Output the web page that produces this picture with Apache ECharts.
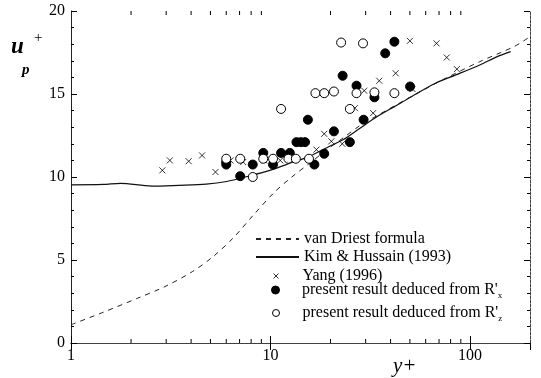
<!DOCTYPE html>
<html><head><meta charset="utf-8">
<script src="https://cdn.jsdelivr.net/npm/echarts@6/dist/echarts.min.js"></script>
<style>html,body{margin:0;padding:0;background:#fff}#c{width:541px;height:378px}</style>
</head><body><div id="c"></div>
<script>
const seriesNames = ['van Driest formula', 'Kim & Hussain (1993)', 'Yang (1996)', "present result deduced from R'x", "present result deduced from R'z"];
const vanDriest = [[1,1.1],[1.45,1.85],[2.16,2.7],[2.96,3.4],[4.06,4.3],[5.15,5.2],[6.53,6.35],[8.27,7.75],[10.5,9.1],[12.8,10.0],[15.6,10.8],[19.7,11.75],[23.1,12.35],[28.1,13.1],[34.3,13.7],[50.9,14.85],[75.6,15.95],[112,16.95],[166,17.85],[200,18.45]];
const kimHussain = [[1,9.53],[1.45,9.55],[1.77,9.62],[2.53,9.45],[3.47,9.5],[4.76,9.57],[6.03,9.73],[7.64,10.03],[10.1,10.43],[12.8,10.87],[15.6,11.23],[19.7,11.84],[23.1,12.24],[28.1,12.94],[34.3,13.64],[41.8,14.24],[50.9,14.84],[67.1,15.65],[85,16.15],[112,16.75],[137,17.25],[160,17.55]];
const yang = [[2.87,10.4],[3.13,11.0],[3.89,10.95],[4.54,11.3],[5.3,10.3],[6.3,11.0],[7.3,10.9],[9.3,11.0],[11.2,11.0],[12.6,11.3],[17.0,11.65],[18.6,12.6],[20.2,12.15],[22.9,12.0],[26.5,14.15],[29.5,15.2],[32.7,13.85],[35.1,15.8],[42.4,16.25],[50.0,18.2],[51.5,15.3],[68.0,18.05],[76.5,17.2],[86.0,16.5]];
const presentRx = [[6.0,10.75],[6.0,10.9],[7.05,10.05],[8.15,10.75],[9.2,11.45],[10.3,10.75],[11.3,11.45],[12.5,11.45],[13.5,12.1],[14.2,12.1],[14.9,12.1],[15.4,13.45],[16.6,10.75],[18.6,11.4],[20.8,12.75],[23.0,16.1],[25.0,12.1],[27.0,15.5],[29.3,13.45],[33.2,14.8],[37.6,17.45],[41.8,18.15],[50.1,15.45]];
const presentRz = [[6.0,11.1],[7.05,11.1],[8.15,10.0],[9.2,11.1],[10.3,11.1],[11.3,14.1],[12.3,11.1],[13.4,11.1],[15.6,11.1],[16.8,15.05],[18.6,15.05],[20.8,15.15],[22.6,18.1],[25.0,14.1],[27.0,15.05],[29.1,18.05],[33.2,15.1],[41.8,15.05]];
const xTickLabels = [1, 10, 100];
const xMinorTicks = [2,3,4,5,6,7,8,9,20,30,40,50,60,70,80,90];
const yTickLabels = [0, 5, 10, 15, 20];

const FONT = 'Liberation Serif';
const crossPath = 'path://M0,0L10,10M10,0L0,10';
const chart = echarts.init(document.getElementById('c'), null, {renderer: 'canvas'});

function xLabel(v) {
  const r = Math.round(v);
  return xTickLabels.indexOf(r) >= 0 && Math.abs(v - r) < 1e-6 * Math.max(1, r) ? String(r) : '';
}
const legendTops = [231, 249, 268, 282, 305];
const legendLefts = [255, 255, 273, 271, 272];
const legendIconH = [10, 10, 5, 8, 7];
const legends = seriesNames.map((n, i) => ({
  data: [n], orient: 'vertical', left: legendLefts[i], top: legendTops[i], padding: 0,
  itemWidth: 43, itemHeight: legendIconH[i], itemGap: 0, selectedMode: false,
  itemStyle: i < 2 ? {color: 'rgba(0,0,0,0)', borderWidth: 0, opacity: 0} : {borderWidth: 1},
  textStyle: {fontFamily: FONT, fontSize: 16, color: '#000',
    rich: {s: {fontFamily: FONT, fontSize: 9, color: '#000', padding: [12, 0, 0, 0]}}},
  formatter: (name) => name.replace(/R'([xz])$/, "R'{s|$1}")
}));

const axisLineStyle = {color: '#222', width: 1};
const option = {
  animation: false,
  backgroundColor: '#fff',
  grid: {left: 71, right: 11, top: 11, bottom: 35, containLabel: false},
  legend: legends,
  xAxis: [
    {type: 'log', logBase: 10, min: 1, max: 200, position: 'bottom',
     axisLine: {show: true, lineStyle: axisLineStyle},
     axisTick: {show: true, inside: true, length: 7, lineStyle: {color: '#000'}},
     axisLabel: {formatter: xLabel, fontFamily: FONT, fontSize: 16, color: '#000', margin: 5, showMaxLabel: false},
     splitLine: {show: false}},
    {type: 'log', logBase: 10, min: 1, max: 200, position: 'top',
     axisLine: {show: true, lineStyle: {color: '#444', width: 1, type: [3, 1]}},
     axisTick: {show: true, inside: true, length: 7, lineStyle: {color: '#000'}},
     axisLabel: {show: false}, splitLine: {show: false}}
  ],
  yAxis: [
    {type: 'value', min: 0, max: 20, interval: 5, position: 'left',
     axisLine: {show: true, lineStyle: axisLineStyle},
     axisTick: {show: true, inside: true, length: 6, lineStyle: {color: '#000'}},
     minorTick: {show: true, splitNumber: 5, length: 3, lineStyle: {color: '#000'}},
     axisLabel: {fontFamily: FONT, fontSize: 16, color: '#000', margin: 6,
       formatter: v => yTickLabels.indexOf(v) >= 0 ? String(v) : ''},
     splitLine: {show: false}},
    {type: 'value', min: 0, max: 20, interval: 5, position: 'right',
     axisLine: {show: true, lineStyle: {color: '#444', width: 1, type: [3, 1]}},
     axisTick: {show: true, inside: true, length: 6, lineStyle: {color: '#000'}},
     minorTick: {show: true, splitNumber: 5, length: 3, lineStyle: {color: '#000'}},
     axisLabel: {show: false}, splitLine: {show: false}}
  ],
  graphic: [
    {type: 'text', left: 11, top: 36, style: {text: 'u', font: 'italic bold 23px "Liberation Serif"', fill: '#000'}},
    {type: 'text', left: 34, top: 31, style: {text: '+', font: '15px "Liberation Serif"', fill: '#000'}},
    {type: 'text', left: 22, top: 63, style: {text: 'p', font: 'italic bold 15px "Liberation Serif"', fill: '#000'}},
    {type: 'text', left: 393, top: 356, style: {text: 'y+', font: 'italic 21px "Liberation Serif"', fill: '#000'}}
  ],
  series: [
    {name: seriesNames[0], type: 'line', data: vanDriest, symbol: 'none', smooth: 0.3,
     lineStyle: {color: '#222', width: 1, type: [5, 5]}, itemStyle: {color: '#222'}, z: 2},
    {name: seriesNames[1], type: 'line', data: kimHussain, symbol: 'none', smooth: 0.3,
     lineStyle: {color: '#111', width: 1.2, type: 'solid'}, itemStyle: {color: '#111'}, z: 2},
    {name: seriesNames[2], type: 'scatter', data: yang, symbol: crossPath, symbolSize: 6,
     itemStyle: {color: '#000', borderColor: '#000', borderWidth: 1}, z: 3},
    {name: seriesNames[3], type: 'scatter', data: presentRx, symbol: 'circle', symbolSize: 9,
     itemStyle: {color: '#000', borderColor: '#000', borderWidth: 1, opacity: 1}, z: 4},
    {name: seriesNames[4], type: 'scatter', data: presentRz, symbol: 'circle', symbolSize: 9,
     itemStyle: {color: '#fff', borderColor: '#000', borderWidth: 1, opacity: 1}, z: 5},
    {type: 'custom', xAxisIndex: 0, yAxisIndex: 0, silent: true, clip: false, z: 6,
     data: xMinorTicks.map(v => [v, 0]),
     encode: {x: 0, y: 1},
     renderItem: function (params, api) {
       const v = api.value(0);
       const b = api.coord([v, 0]);
       const t = api.coord([v, 20]);
       return {type: 'group', children: [
         {type: 'line', shape: {x1: b[0], y1: b[1], x2: b[0], y2: b[1] - 4}, style: {stroke: '#000', lineWidth: 1}},
         {type: 'line', shape: {x1: t[0], y1: t[1], x2: t[0], y2: t[1] + 4}, style: {stroke: '#000', lineWidth: 1}}
       ]};
     }}
  ]
};
chart.setOption(option);
</script></body></html>
